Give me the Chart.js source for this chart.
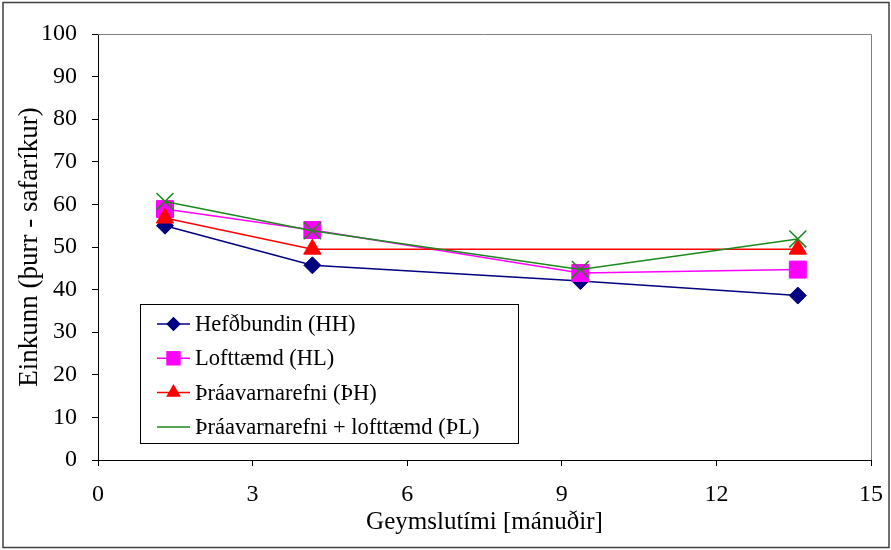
<!DOCTYPE html>
<html>
<head>
<meta charset="utf-8">
<script src="https://cdn.jsdelivr.net/npm/chart.js@4.4.6/dist/chart.umd.min.js"></script>
<style>
  html, body { margin: 0; padding: 0; background: #fff; }
  #wrap { width: 891px; height: 550px; }
</style>
</head>
<body>
<div id="wrap"><canvas id="chart" width="891" height="550"></canvas></div>
<script>
// storage time (months) at each tasting
const months = [1.3, 4.16, 9.36, 13.58];

// score per treatment
const hefdbundin = [55.0, 45.7, 42.0, 38.6];
const lofttaemd = [58.9, 54.0, 43.9, 44.7];
const thraavarnarefni = [56.8, 49.5, null, 49.5];
const thraLofttaemd = [60.7, 53.8, 44.7, 51.9];

const seriesNames = [
  'Hefðbundin (HH)',
  'Lofttæmd (HL)',
  'Þráavarnarefni (ÞH)',
  'Þráavarnarefni + lofttæmd (ÞL)'
];

const xTicks = [0, 3, 6, 9, 12, 15];
const yTicks = [0, 10, 20, 30, 40, 50, 60, 70, 80, 90, 100];

const FONT = 'Liberation Serif, "Times New Roman", serif';

const toPoints = vals => months.map((m, i) => ({ x: m, y: vals[i] }));

function series(label, vals, color, style, radius, order) {
  return {
    label,
    data: toPoints(vals),
    borderColor: color,
    backgroundColor: color,
    borderWidth: 1.5,
    pointStyle: style,
    pointRadius: radius,
    pointHoverRadius: radius,
    pointBorderColor: color,
    pointBackgroundColor: color,
    pointBorderWidth: style === 'crossRot' ? 1.5 : 1,
    spanGaps: true,
    tension: 0,
    order
  };
}

// boxed legend in the lower-left of the plot area
const boxLegend = {
  id: 'boxLegend',
  afterDraw(chart) {
    const { ctx } = chart;
    const x0 = 140, y0 = 304, w = 378, h = 139;
    ctx.save();
    ctx.fillStyle = '#fff';
    ctx.fillRect(x0, y0, w, h);
    ctx.strokeStyle = '#000';
    ctx.lineWidth = 1;
    ctx.strokeRect(x0 + 0.5, y0 + 0.5, w, h);
    chart.data.datasets.forEach((ds, i) => {
      const y = 324 + i * 34.3;
      ctx.strokeStyle = ds.borderColor;
      ctx.lineWidth = 1.5;
      ctx.beginPath();
      ctx.moveTo(157, y);
      ctx.lineTo(190, y);
      ctx.stroke();
      ctx.fillStyle = ds.pointBackgroundColor;
      ctx.strokeStyle = ds.pointBorderColor;
      ctx.lineWidth = ds.pointBorderWidth;
      Chart.helpers.drawPoint(ctx, { pointStyle: ds.pointStyle, radius: ds.pointRadius * 0.85, rotation: 0 }, 173.5, y);
      ctx.fillStyle = '#000';
      ctx.font = '22.5px ' + FONT;
      ctx.textBaseline = 'middle';
      ctx.textAlign = 'left';
      ctx.fillText(ds.label, 195, y + 1);
    });
    ctx.restore();
  }
};

// gray frame on top/right of plot area and the outer border
const frames = {
  id: 'frames',
  beforeDatasetsDraw(chart) {
    const { ctx, chartArea: a } = chart;
    ctx.save();
    ctx.strokeStyle = '#808080';
    ctx.lineWidth = 1;
    ctx.beginPath();
    ctx.moveTo(a.left, a.top + 0.5);
    ctx.lineTo(a.right + 0.5, a.top + 0.5);
    ctx.lineTo(a.right + 0.5, a.bottom);
    ctx.stroke();
    ctx.restore();
  },
  afterDraw(chart) {
    const { ctx } = chart;
    ctx.save();
    ctx.strokeStyle = '#404040';
    ctx.lineWidth = 1.5;
    ctx.strokeRect(3, 2.5, 886, 545);
    ctx.restore();
  }
};

new Chart(document.getElementById('chart'), {
  type: 'line',
  data: {
    datasets: [
      series(seriesNames[0], hefdbundin, '#000080', 'rectRot', 8.5, 3),
      series(seriesNames[1], lofttaemd, '#ff00ff', 'rect', 12, 2),
      series(seriesNames[2], thraavarnarefni, '#ff0000', 'triangle', 10, 1),
      series(seriesNames[3], thraLofttaemd, '#1a8a1a', 'crossRot', 12, 0)
    ]
  },
  options: {
    responsive: false,
    animation: false,
    layout: { padding: { top: 34, right: 20, bottom: 0, left: 0 } },
    plugins: {
      legend: { display: false },
      tooltip: { enabled: false }
    },
    scales: {
      x: {
        type: 'linear',
        min: 0,
        max: 15,
        afterBuildTicks: s => { s.ticks = xTicks.map(v => ({ value: v })); },
        afterFit: s => { s.height = 90; s.paddingRight = 0; s.paddingLeft = 0; },
        ticks: { color: '#000', font: { family: FONT, size: 24 }, padding: 14, maxRotation: 0 },
        grid: { drawOnChartArea: false, drawTicks: true, tickLength: 6, color: '#000' },
        border: { color: '#000', width: 1 },
        title: {
          display: true,
          text: 'Geymslutími [mánuðir]',
          color: '#000',
          font: { family: FONT, size: 25 },
          padding: { top: 0, bottom: 13 }
        }
      },
      y: {
        type: 'linear',
        min: 0,
        max: 100,
        afterBuildTicks: s => { s.ticks = yTicks.map(v => ({ value: v })); },
        afterFit: s => { s.width = 98; },
        ticks: { color: '#000', font: { family: FONT, size: 24 }, padding: 15 },
        grid: { drawOnChartArea: false, drawTicks: true, tickLength: 6, color: '#000' },
        border: { color: '#000', width: 1 },
        title: {
          display: true,
          text: 'Einkunn (þurr - safaríkur)',
          color: '#000',
          font: { family: FONT, size: 27 },
          padding: { top: 14, bottom: 0 }
        }
      }
    }
  },
  plugins: [frames, boxLegend]
});
</script>
</body>
</html>
